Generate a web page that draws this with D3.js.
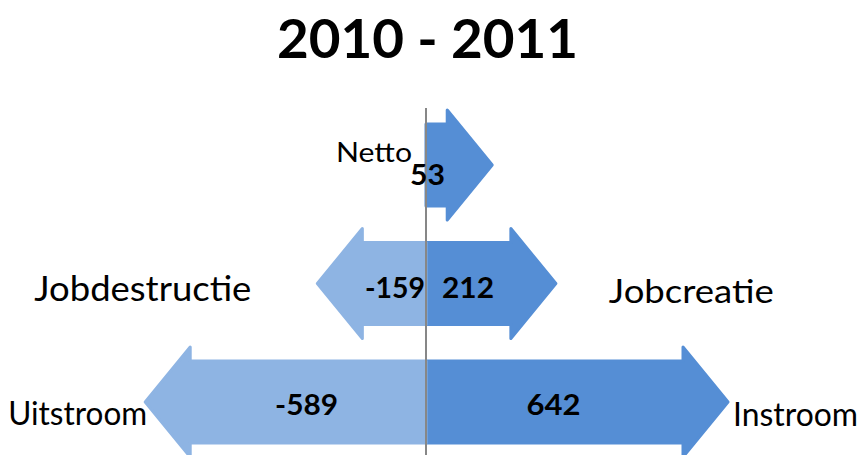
<!DOCTYPE html>
<html>
<head>
<meta charset="utf-8">
<script src="https://cdn.jsdelivr.net/npm/d3@7"></script>
<style>
  body { margin: 0; background: #fff; }
  text { font-family: Lato, "Open Sans", sans-serif; }
</style>
</head>
<body>
<svg id="chart" width="865" height="455"></svg>
<script>
const svg = d3.select("#chart");

const title = "2010 - 2011";
const rows = ["netto", "job", "stroom"];

// right side (positive) and left side (negative) per row
const rightValues = [53, 212, 642];
const leftValues = [null, -159, -589];
const rightNames = ["Netto", "Jobcreatie", "Instroom"];
const leftNames = [null, "Jobdestructie", "Uitstroom"];

const cx = 426;
const rightColor = "#558ed5";
const leftColor = "#8eb4e3";
const shaftHalf = 41;
const headHalf = 55;
const headLen = 45;

const y = d3.scalePoint().domain(rows).range([165, 402]);
const len = d3.scaleLinear().domain([0, 642]).range([0, 257]);

function arrowPath(yc, value) {
  const dir = value >= 0 ? 1 : -1;
  const base = cx + dir * len(Math.abs(value));
  const tip = base + dir * headLen;
  const p = d3.path();
  p.moveTo(cx, yc - shaftHalf);
  p.lineTo(base, yc - shaftHalf);
  p.lineTo(base, yc - headHalf);
  p.lineTo(tip, yc);
  p.lineTo(base, yc + headHalf);
  p.lineTo(base, yc + shaftHalf);
  p.lineTo(cx, yc + shaftHalf);
  p.closePath();
  return p.toString();
}

const arrows = [];
rows.forEach((r, i) => {
  arrows.push({ row: r, i, value: rightValues[i], name: rightNames[i], side: 1 });
  if (leftValues[i] != null) arrows.push({ row: r, i, value: leftValues[i], name: leftNames[i], side: -1 });
});

svg.append("g").selectAll("path")
  .data(arrows)
  .join("path")
  .attr("d", d => arrowPath(y(d.row), d.value))
  .attr("fill", d => d.side > 0 ? rightColor : leftColor)
  .attr("stroke", d => d.side > 0 ? rightColor : leftColor)
  .attr("stroke-width", 3)
  .attr("stroke-linejoin", "round");

svg.append("line")
  .attr("x1", cx).attr("x2", cx)
  .attr("y1", 108).attr("y2", 455)
  .attr("stroke", "#878787")
  .attr("stroke-width", 2);

// text squeezed into the box it has in the original
function box(text, x0, x1, base, size, bold) {
  return svg.append("text")
    .attr("x", x0).attr("y", base)
    .attr("font-size", size)
    .attr("font-weight", bold ? "bold" : null)
    .attr("textLength", x1 - x0)
    .attr("lengthAdjust", "spacingAndGlyphs")
    .text(text);
}

box(title, 277, 578, 58, 53, true);

const tipX = d => cx + Math.sign(d.value) * (len(Math.abs(d.value)) + headLen);

arrows.forEach(d => {
  const yc = y(d.row);
  const base = cx + d.side * len(Math.abs(d.value));
  const v = String(d.value);
  if (d.row === "netto") {
    box(d.name, cx - 90, cx - 14, yc - 3, 26, false);
    box(v, cx - 16, cx + 19, yc + 20, 28, true);
  } else if (d.row === "job") {
    if (d.side > 0) {
      box(v, cx + 16, cx + 68, yc + 14, 28, true);
      box(d.name, tipX(d) + 53, tipX(d) + 218, yc + 19, 33, false);
    } else {
      box(v, cx - 61, cx - 1, yc + 14, 28, true);
      box(d.name, tipX(d) - 283, tipX(d) - 66, yc + 17, 34, false);
    }
  } else {
    const mid = (cx + base) / 2;
    if (d.side > 0) {
      box(v, mid - 28, mid + 26, yc + 13, 28, true);
      box(d.name, tipX(d) + 5, tipX(d) + 130, yc + 24, 33, false);
    } else {
      box(v, mid - 33, mid + 30, yc + 13, 28, true);
      box(d.name, tipX(d) - 137, tipX(d) + 2, yc + 23, 32, false);
    }
  }
});
</script>
</body>
</html>
